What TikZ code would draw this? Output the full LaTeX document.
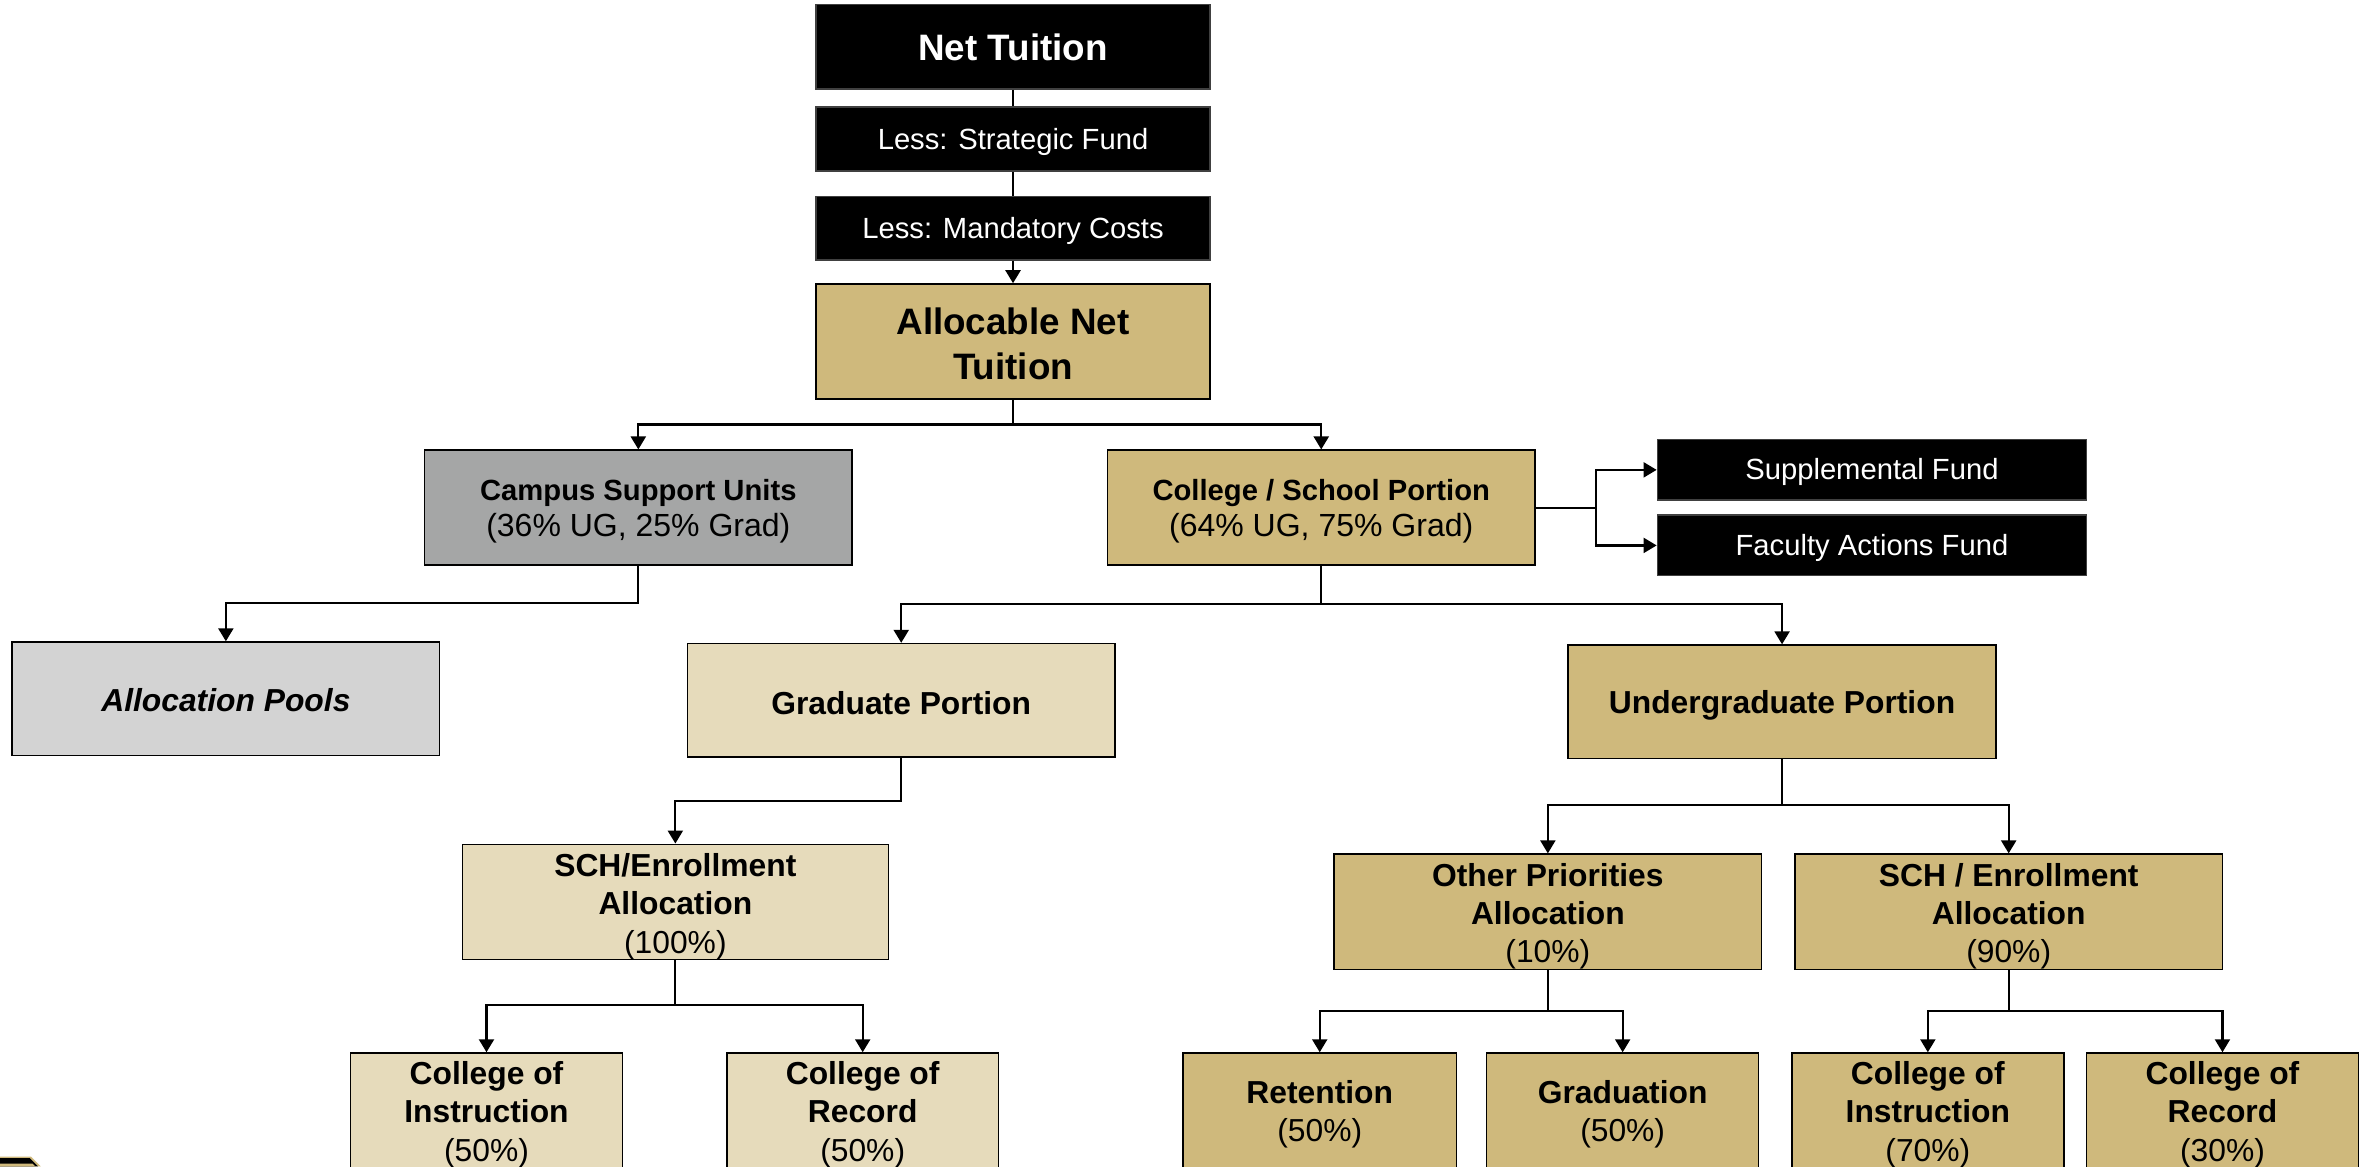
\documentclass[tikz,border=0pt]{standalone}
\usepackage{fontspec}
\setmainfont{Liberation Sans}
\usetikzlibrary{arrows.meta}
\definecolor{gold}{RGB}{207,185,124}
\definecolor{tanc}{RGB}{230,219,187}
\definecolor{midgray}{RGB}{165,166,166}
\definecolor{ltgray}{RGB}{211,211,211}
\newcommand{\fBig}{\fontsize{18.4}{22.5}\selectfont\bfseries}
\newcommand{\fLess}{\fontsize{14.6}{17}\selectfont}
\newcommand{\fHead}{\fontsize{14.6}{18.35}\selectfont\bfseries}
\newcommand{\fSub}{\fontsize{16}{18.35}\selectfont}
\newcommand{\fMain}{\fontsize{15.9}{19.2}\selectfont}
\newcommand{\tup}[1][4pt]{\rule{0pt}{\dimexpr\fontcharht\font`\l+#1\relax}}
\tikzset{
  sz/.style 2 args={minimum width=#1*0.7554pt, minimum height=#2*0.7554pt},
  bx/.style={draw=black, line width=0.8pt, inner sep=0pt, align=center, text=black},
  blk/.style={bx, fill=black, draw=black!75, text=white},
  goldbox/.style={bx, fill=gold},
  tanbox/.style={bx, fill=tanc},
  conn/.style={line width=1.1pt, draw=black},
  arr/.style={conn, -{Triangle[length=6.5pt,width=7.5pt]}},
}
\begin{document}
\begin{tikzpicture}[x=0.7554pt, y=-0.7554pt]
\useasboundingbox (0,0) rectangle (1568,772);
% top chain
\node[blk, sz={261}{56}, font=\fBig] (nt) at (670.5,31) {\tup[1.6pt]Net Tuition};
\node[blk, sz={261}{42}, font=\fLess] (sf) at (670.5,92) {\tup[3pt]Less: Strategic Fund};
\node[blk, sz={261}{42}, font=\fLess] (mc) at (670.5,151) {\tup[3pt]Less: Mandatory Costs};
\node[goldbox, sz={261}{76}, font=\fBig] (ant) at (670.5,226) {\tup[3pt]Allocable Net\\Tuition};
% second level
\node[bx, fill=midgray, sz={283}{76}, font=\fSub] (csu) at (422.5,336)
  {{\fHead\tup Campus Support Units}\\(36\% UG, 25\% Grad)};
\node[goldbox, sz={283}{76}, font=\fSub] (csp) at (874.5,336)
  {{\fHead\tup College / School Portion}\\(64\% UG, 75\% Grad)};
\node[blk, sz={284}{40}, font=\fLess] (supp) at (1239,311) {\tup[3pt]Supplemental Fund};
\node[blk, sz={284}{40}, font=\fLess] (fac) at (1239,361) {\tup[3pt]Faculty Actions Fund};
% third level
\node[bx, fill=ltgray, sz={283}{75}, font=\fMain\bfseries\itshape] (pools) at (149.5,462.5) {\tup[2pt]Allocation Pools};
\node[tanbox, sz={283}{75}, font=\fMain\bfseries] (grad) at (596.5,463.5) {\tup[3pt]Graduate Portion};
\node[goldbox, sz={283}{75}, font=\fMain\bfseries] (ug) at (1179.5,464.5) {\tup[4pt]Undergraduate Portion};
% fourth level
\node[tanbox, sz={282}{76}, font=\fMain] (sch) at (447,597)
  {\textbf{\tup[5pt]SCH/Enrollment}\\\textbf{Allocation}\\(100\%)};
\node[goldbox, sz={283}{75}, font=\fMain] (opa) at (1024.5,603.5)
  {\textbf{\tup[5pt]Other Priorities}\\\textbf{Allocation}\\(10\%)};
\node[goldbox, sz={283}{75}, font=\fMain] (schu) at (1329.5,603.5)
  {\textbf{\tup[5pt]SCH / Enrollment}\\\textbf{Allocation}\\(90\%)};
% bottom level
\node[tanbox, sz={180}{76}, font=\fMain] (ci1) at (322,735)
  {\textbf{\tup[4.5pt]College of}\\\textbf{Instruction}\\(50\%)};
\node[tanbox, sz={180}{76}, font=\fMain] (cr1) at (571,735)
  {\textbf{\tup[4.5pt]College of}\\\textbf{Record}\\(50\%)};
\node[goldbox, sz={181}{76}, font=\fMain] (ret) at (873.5,735)
  {\textbf{\tup[4.5pt]Retention}\\(50\%)};
\node[goldbox, sz={180}{76}, font=\fMain] (grd) at (1074,735)
  {\textbf{\tup[4.5pt]Graduation}\\(50\%)};
\node[goldbox, sz={180}{76}, font=\fMain] (ci2) at (1276,735)
  {\textbf{\tup[4.5pt]College of}\\\textbf{Instruction}\\(70\%)};
\node[goldbox, sz={180}{76}, font=\fMain] (cr2) at (1471,735)
  {\textbf{\tup[4.5pt]College of}\\\textbf{Record}\\(30\%)};
% bar coordinates
\coordinate (b1) at (670.5,281);
\coordinate (b2) at (422.5,399);
\coordinate (b3) at (874.5,400);
\coordinate (b4) at (1056.5,336);
\coordinate (b5) at (596.5,530);
\coordinate (b6) at (1179.5,533);
\coordinate (b7) at (447,665);
\coordinate (b8) at (1024.5,669);
\coordinate (b9) at (1329.5,669);
% connectors
\draw[conn] (nt) -- (sf);
\draw[conn] (sf) -- (mc);
\draw[arr] (mc) -- (ant);
\draw[arr] (ant.south) |- (b1) -| (csu.north);
\draw[arr] (b1) -| (csp.north);
\draw[arr] (csu.south) |- (b2) -| (pools.north);
\draw[arr] (csp.east) -- (b4) |- (supp.west);
\draw[arr] (b4) |- (fac.west);
\draw[arr] (csp.south) |- (b3) -| (grad.north);
\draw[arr] (b3) -| (ug.north);
\draw[arr] (grad.south) |- (b5) -| (sch.north);
\draw[arr] (sch.south) |- (b7) -| (ci1.north);
\draw[arr] (b7) -| (cr1.north);
\draw[arr] (ug.south) |- (b6) -| (opa.north);
\draw[arr] (b6) -| (schu.north);
\draw[arr] (opa.south) |- (b8) -| (ret.north);
\draw[arr] (b8) -| (grd.north);
\draw[arr] (schu.south) |- (b9) -| (ci2.north);
\draw[arr] (b9) -| (cr2.north);
% logo fragment bottom left
\fill[gold] (0,765.5) -- (20.5,765.5) -- (27,772) -- (0,772) -- cycle;
\fill[black] (0,766.6) -- (19.8,766.6) -- (25.2,772) -- (0,772) -- cycle;
\fill[gold] (0,770.2) -- (21.6,770.2) -- (23.4,772) -- (0,772) -- cycle;
\end{tikzpicture}
\end{document}
